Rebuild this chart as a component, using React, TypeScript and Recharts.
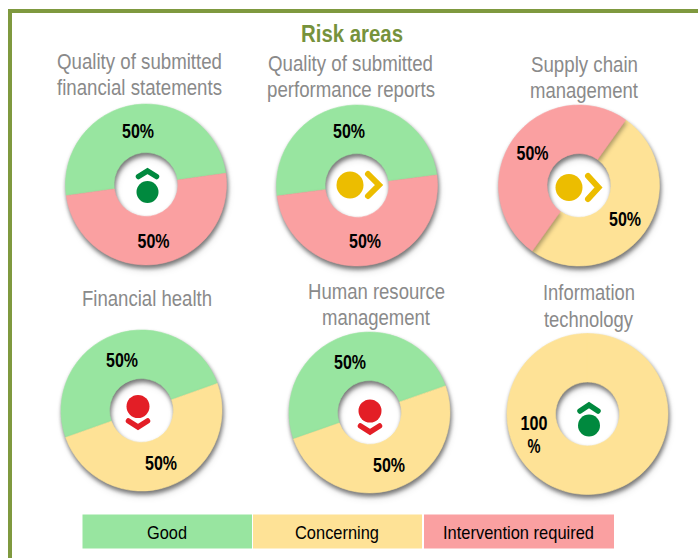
import React from "react";
import { PieChart, Pie, Cell } from "recharts";

const statuses = ["Good", "Concerning", "Intervention required"];
const statementsValues = [50, 0, 50];
const performanceValues = [50, 0, 50];
const supplyValues = [0, 50, 50];
const healthValues = [50, 50, 0];
const humanValues = [50, 50, 0];
const itValues = [0, 100, 0];

const COLORS = ["#98E5A0", "#FEE296", "#FAA0A1"];
const GREEN = "#00893E";
const AMBER = "#ECBD00";
const RED = "#E31E26";
const TITLE_GREY = "#8A8A8A";

type Trend = "up" | "flat" | "down";
interface Donut {
  values: number[];
  cx: number;
  cy: number;
  start: number;
  labels: ([number, number] | null)[];
  trend: Trend;
  color: string;
  mark: { x: number; y: number; r: number; pts: string };
  titles: { t: string; x: number; w: number; y: number }[];
}

const donuts: Donut[] = [
  {
    values: statementsValues, cx: 146, cy: 184.5, start: 188,
    labels: [[138, 130.5], null, [153.5, 240.5]], trend: "up", color: GREEN,
    mark: { x: 147.5, y: 192, r: 11, pts: "138.5,176.5 147.5,171 156.5,176.5" },
    titles: [
      { t: "Quality of submitted", x: 57, w: 165, y: 69 },
      { t: "financial statements", x: 57, w: 165, y: 95 },
    ],
  },
  {
    values: performanceValues, cx: 357, cy: 185.5, start: 187.5,
    labels: [[349, 131], null, [365, 241]], trend: "flat", color: AMBER,
    mark: { x: 350, y: 185, r: 13.5, pts: "368,174 379,185 368,196" },
    titles: [
      { t: "Quality of submitted", x: 268, w: 165, y: 71 },
      { t: "performance reports", x: 267, w: 168, y: 97 },
    ],
  },
  {
    values: supplyValues, cx: 579, cy: 185.5, start: 54.5,
    labels: [null, [625, 219], [532.5, 153]], trend: "flat", color: AMBER,
    mark: { x: 569, y: 187.5, r: 13.5, pts: "588,176 598.5,187.5 588,199" },
    titles: [
      { t: "Supply chain", x: 531, w: 107, y: 72 },
      { t: "management", x: 530, w: 108, y: 98 },
    ],
  },
  {
    values: healthValues, cx: 141.5, cy: 410.5, start: 199.6,
    labels: [[122, 359.5], [161, 463], null], trend: "down", color: RED,
    mark: { x: 138, y: 406.5, r: 11.5, pts: "128.5,421 138,427 147.5,421" },
    titles: [{ t: "Financial health", x: 82, w: 130, y: 306 }],
  },
  {
    values: humanValues, cx: 369.5, cy: 412.5, start: 199.3,
    labels: [[350, 361.5], [389, 465], null], trend: "down", color: RED,
    mark: { x: 370, y: 411, r: 11.5, pts: "360.5,426 370,432 379.5,426" },
    titles: [
      { t: "Human resource", x: 308, w: 137, y: 299 },
      { t: "management", x: 322, w: 108, y: 325 },
    ],
  },
  {
    values: itValues, cx: 587.5, cy: 414, start: 90,
    labels: [null, [534, 422.5], null], trend: "up", color: GREEN,
    mark: { x: 589, y: 425.5, r: 11, pts: "580,411 589,405 598,411" },
    titles: [
      { t: "Information", x: 543, w: 92, y: 300 },
      { t: "technology", x: 544, w: 89, y: 327 },
    ],
  },
];

const legendBoxes = [
  { x: 82.5, w: 169.5, tx: 147, tw: 40 },
  { x: 253, w: 169, tx: 295, tw: 84 },
  { x: 424, w: 190, tx: 443, tw: 151 },
];

const labelStyle = { fontFamily: "Liberation Sans", fontWeight: 700, fontSize: 19.5, fill: "#000" };

const renderLabel = (d: Donut) => (p: any) => {
  const pos = d.labels[p.index];
  if (!pos || !p.value) return <g key={p.index} />;
  if (p.value === 100) {
    return (
      <g key={p.index}>
        <text x={pos[0] - 13.5} y={pos[1] + 7} textLength={27} lengthAdjust="spacingAndGlyphs" {...labelStyle}>100</text>
        <text x={pos[0] - 6.5} y={pos[1] + 30} textLength={13} lengthAdjust="spacingAndGlyphs" {...labelStyle}>%</text>
      </g>
    );
  }
  return (
    <text key={p.index} x={pos[0] - 16} y={pos[1] + 7} textLength={32} lengthAdjust="spacingAndGlyphs" {...labelStyle}>
      {`${p.value}%`}
    </text>
  );
};

export default function App() {
  return (
    <div style={{ position: "absolute", left: 0, top: 0, width: 698, height: 558, background: "#fff", overflow: "hidden" }}>
      <style>{`.donut-shadow { filter: drop-shadow(1px 3px 2px rgba(0,0,0,0.32)); }`}</style>
      <div style={{ position: "absolute", left: 8, top: 9, width: 720, height: 600, border: "4px solid #7F993F", boxSizing: "border-box" }} />
      <div style={{ position: "absolute", left: 0, top: 0 }}>
        <PieChart width={698} height={558} margin={{ top: 0, right: 0, bottom: 0, left: 0 }}>
          <text x={301} y={42} textLength={102} lengthAdjust="spacingAndGlyphs" fontFamily="Liberation Sans" fontWeight={700} fontSize={24} fill="#76923C">
            Risk areas
          </text>
          {donuts.map((d, i) => {
            const data = statuses.map((name, k) => ({ name, value: d.values[k] }));
            return (
              <Pie
                key={`base-${i}`}
                className="donut-shadow"
                data={data}
                dataKey="value"
                nameKey="name"
                cx={d.cx}
                cy={d.cy}
                innerRadius={32}
                outerRadius={80.5}
                startAngle={d.start}
                endAngle={d.start - 360}
                isAnimationActive={false}
              >
                {data.map((_, k) => (
                  <Cell key={k} fill={COLORS[k]} stroke={d.values[k] ? COLORS[k] : "none"} strokeWidth={0.6} />
                ))}
              </Pie>
            );
          })}
          {donuts.map((d, i) => {
            const data = statuses.map((name, k) => ({ name, value: d.values[k] }));
            return (
              <Pie
                key={`labels-${i}`}
                data={data}
                dataKey="value"
                nameKey="name"
                cx={d.cx}
                cy={d.cy}
                innerRadius={32}
                outerRadius={80.5}
                startAngle={d.start}
                endAngle={d.start - 360}
                fill="none"
                stroke="none"
                label={renderLabel(d)}
                labelLine={false}
                isAnimationActive={false}
              />
            );
          })}
          {donuts.map((d, i) => (
            <g key={`mark-${i}`}>
              <circle cx={d.mark.x} cy={d.mark.y} r={d.mark.r} fill={d.color} />
              <polyline points={d.mark.pts} fill="none" stroke={d.color} strokeWidth={d.trend === "flat" ? 6 : 5.5} strokeLinecap="round" strokeLinejoin="miter" />
            </g>
          ))}
          {donuts.flatMap((d, i) =>
            d.titles.map((t, k) => (
              <text key={`t-${i}-${k}`} x={t.x} y={t.y} textLength={t.w} lengthAdjust="spacingAndGlyphs" fontFamily="Liberation Sans" fontSize={22} fill={TITLE_GREY}>
                {t.t}
              </text>
            ))
          )}
          {statuses.map((s, k) => (
            <g key={s}>
              <rect x={legendBoxes[k].x} y={514.5} width={legendBoxes[k].w} height={34} fill={COLORS[k]} />
              <text x={legendBoxes[k].tx} y={539} textLength={legendBoxes[k].tw} lengthAdjust="spacingAndGlyphs" fontFamily="Liberation Sans" fontSize={19} fill="#000">
                {s}
              </text>
            </g>
          ))}
        </PieChart>
      </div>
    </div>
  );
}
